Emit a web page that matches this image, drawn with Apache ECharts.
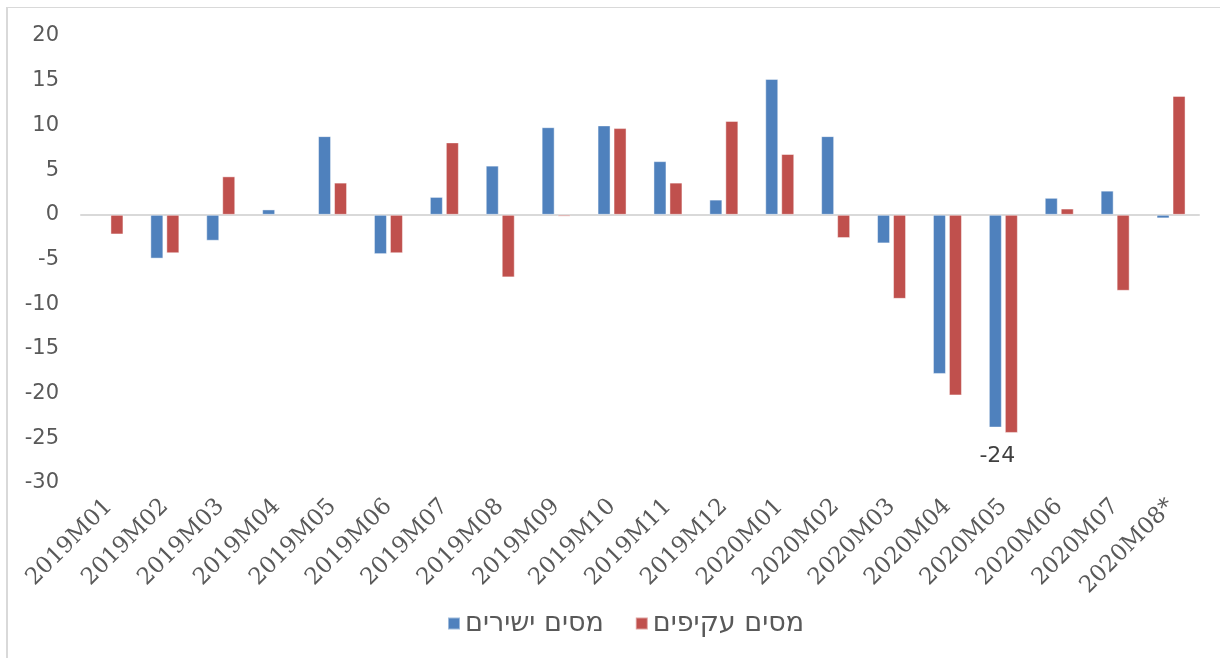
<!DOCTYPE html>
<html>
<head>
<meta charset="utf-8">
<script src="https://cdn.jsdelivr.net/npm/echarts@6/dist/echarts.min.js"></script>
<style>
  html, body { margin: 0; padding: 0; background: #fff; }
  #frame {
    position: absolute; left: 6px; top: 7px; width: 1220px; height: 660px;
    border-left: 2px solid #d9d9d9; border-top: 1px solid #d9d9d9;
  }
  #chart { position: absolute; left: 0; top: 0; width: 1220px; height: 658px; }
</style>
</head>
<body>
<div id="frame"></div>
<div id="chart"></div>
<script>
const months = [
  '2019M01', '2019M02', '2019M03', '2019M04', '2019M05', '2019M06', '2019M07',
  '2019M08', '2019M09', '2019M10', '2019M11', '2019M12', '2020M01', '2020M02',
  '2020M03', '2020M04', '2020M05', '2020M06', '2020M07', '2020M08*'
]
const directTax = [null, -4.9, -2.9, 0.6, 8.8, -4.4, 2.0, 5.5, 9.8, 10.0, 6.0, 1.7, 15.2, 8.8, -3.2, -17.8, -23.8, 1.9, 2.7, -0.4]
const indirectTax = [-2.2, -4.3, 4.3, null, 3.6, -4.3, 8.1, -7.0, -0.2, 9.7, 3.6, 10.5, 6.8, -2.6, -9.4, -20.2, -24.4, 0.7, -8.5, 13.3]
const yTicks = [-30, 20, 5]  // min, max, step
const labelledIndex = 16     // 2020M05 carries the only data label

const names = ['מסים ישירים', 'מסים עקיפים']
const blue = '#4f81bd'
const red = '#c0504d'

const chart = echarts.init(document.getElementById('chart'))

function barSeries(name, values, color, withLabel) {
  return {
    name,
    type: 'bar',
    barWidth: 13,
    barGap: '23%',
    itemStyle: { color, borderColor: 'rgba(255,255,255,0.45)', borderWidth: 1 },
    data: values.map((v, i) => {
      if (v === null) return '-'
      if (withLabel && i === labelledIndex) {
        return {
          value: v,
          label: {
            show: true,
            position: 'bottom',
            distance: 18,
            offset: [2, 0],
            formatter: (p) => String(Math.round(p.value)),
            fontFamily: 'DejaVu Sans',
            fontSize: 22,
            color: '#404040'
          }
        }
      }
      return v
    })
  }
}

chart.setOption({
  animation: false,
  backgroundColor: 'transparent',
  color: [blue, red],
  grid: { left: 81, right: 21, top: 36, bottom: 175 },
  legend: {
    left: 442,
    top: 605,
    icon: 'rect',
    itemWidth: 12,
    itemHeight: 12,
    itemGap: 31,
    textStyle: { fontFamily: 'DejaVu Sans', fontSize: 27, color: '#595959' },
    data: names
  },
  xAxis: {
    type: 'category',
    data: months,
    axisLine: { onZero: true, lineStyle: { color: '#d9d9d9', width: 2 } },
    axisTick: { show: false },
    axisLabel: {
      interval: 0,
      rotate: 45,
      margin: 20,
      fontFamily: 'DejaVu Serif',
      fontSize: 23,
      color: '#595959'
    }
  },
  yAxis: {
    type: 'value',
    min: yTicks[0],
    max: yTicks[1],
    interval: yTicks[2],
    axisLine: { show: false },
    axisTick: { show: false },
    splitLine: { show: false },
    axisLabel: {
      margin: 22,
      fontFamily: 'DejaVu Sans',
      fontSize: 21,
      color: '#595959'
    }
  },
  series: [
    barSeries(names[0], directTax, blue, true),
    barSeries(names[1], indirectTax, red, false)
  ]
})
</script>
</body>
</html>
